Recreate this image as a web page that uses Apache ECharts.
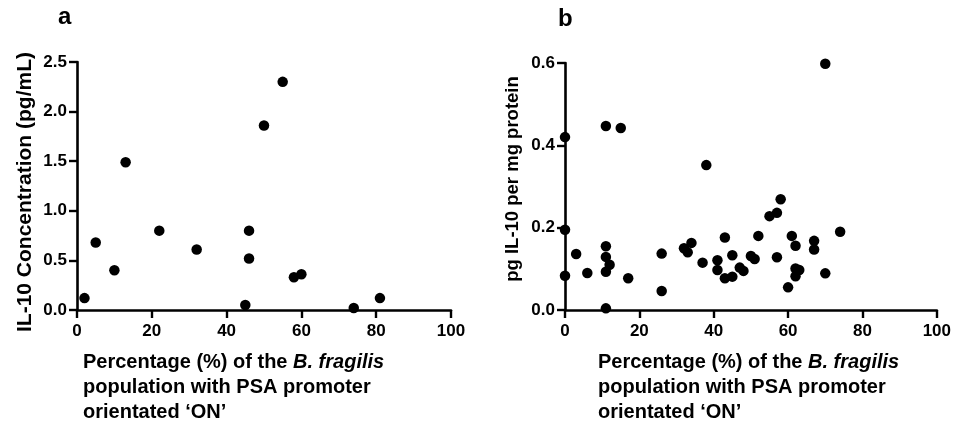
<!DOCTYPE html>
<html><head><meta charset="utf-8">
<script src="https://cdn.jsdelivr.net/npm/echarts@6/dist/echarts.min.js"></script>
<style>html,body{margin:0;padding:0;background:#fff}#c{width:954px;height:422px}</style>
</head><body><div id="c"></div>
<script>
// Panel a: % PSA ON vs IL-10 concentration (pg/mL)
const aX = [2, 5, 10, 13, 22, 32, 45, 46, 46, 50, 55, 58, 60, 74, 81];
const aY = [0.12, 0.68, 0.40, 1.49, 0.80, 0.61, 0.05, 0.80, 0.52, 1.86, 2.30, 0.33, 0.36, 0.02, 0.12];
// Panel b: % PSA ON vs pg IL-10 per mg protein
const bX = [0, 0, 0, 3, 6, 11, 15, 11, 11, 12, 11, 11, 17, 26, 26, 32, 33, 34, 37, 38, 41, 41, 43, 43, 45, 45, 47, 48, 50, 51, 52, 55, 57, 58, 57, 60, 61, 62, 62, 62, 63, 67, 67, 70, 70, 74];
const bY = [0.42, 0.195, 0.083, 0.136, 0.09, 0.447, 0.442, 0.155, 0.129, 0.11, 0.093, 0.004, 0.077, 0.137, 0.046, 0.15, 0.14, 0.163, 0.115, 0.352, 0.121, 0.097, 0.176, 0.077, 0.081, 0.133, 0.103, 0.095, 0.131, 0.124, 0.180, 0.228, 0.236, 0.269, 0.128, 0.055, 0.180, 0.156, 0.101, 0.082, 0.097, 0.168, 0.147, 0.089, 0.598, 0.190];
const xTicks = [0, 20, 40, 60, 80, 100];
const aYTicks = ['0.0', '0.5', '1.0', '1.5', '2.0', '2.5'];
const bYTicks = ['0.0', '0.2', '0.4', '0.6'];

const chart = echarts.init(document.getElementById('c'));
const axLine = {lineStyle: {color: '#000', width: 2.6}};
const axTick = {show: true, length: 8, lineStyle: {color: '#000', width: 2.4}};
const FONT = 'Liberation Sans';
function xAxis(i) {
  return {type: 'value', gridIndex: i, min: 0, max: 100, interval: 20,
    axisLine: {onZero: false, ...axLine}, axisTick: axTick, splitLine: {show: false},
    axisLabel: {color: '#000', fontFamily: FONT, fontWeight: 'bold', fontSize: 17, margin: 13,
      formatter: v => xTicks.includes(v) ? String(v) : ''}};
}
function yAxis(i, max, interval, ticks) {
  return {type: 'value', gridIndex: i, min: 0, max: max, interval: interval,
    axisLine: {onZero: false, ...axLine}, axisTick: axTick, splitLine: {show: false},
    axisLabel: {color: '#000', fontFamily: FONT, fontWeight: 'bold', fontSize: 17, margin: 10,
      formatter: v => ticks[Math.round(v / interval)]}};
}
const titleRich = {
  n: {fontFamily: FONT, fontWeight: 'bold', fontSize: 20, fill: '#000', lineHeight: 25},
  i: {fontFamily: FONT, fontWeight: 'bold', fontStyle: 'italic', fontSize: 20, fill: '#000', lineHeight: 25}
};
const titleText = '{n|Percentage (%) of the }{i|B. fragilis}\n{n|population with PSA promoter}\n{n|orientated ‘ON’}';
chart.setOption({
  animation: false,
  grid: [
    {left: 77, right: 503, top: 62, bottom: 112},
    {left: 565, right: 15, top: 63, bottom: 112}
  ],
  xAxis: [xAxis(0), xAxis(1)],
  yAxis: [yAxis(0, 2.5, 0.5, aYTicks), yAxis(1, 0.6, 0.2, bYTicks)],
  series: [
    {type: 'scatter', xAxisIndex: 0, yAxisIndex: 0, symbolSize: 10.5, itemStyle: {color: '#000', opacity: 1},
      data: aX.map((x, k) => [x, aY[k]])},
    {type: 'scatter', xAxisIndex: 1, yAxisIndex: 1, symbolSize: 10.5, itemStyle: {color: '#000', opacity: 1},
      data: bX.map((x, k) => [x, bY[k]])}
  ],
  graphic: [
    {type: 'text', left: 58, top: 5, style: {text: 'a', font: 'bold 24px "Liberation Sans"', fill: '#000'}},
    {type: 'text', left: 558, top: 7, style: {text: 'b', font: 'bold 24px "Liberation Sans"', fill: '#000'}},
    {type: 'text', x: 25, y: 192, rotation: Math.PI / 2,
      style: {text: 'IL-10 Concentration (pg/mL)', font: 'bold 21px "Liberation Sans"', fill: '#000', align: 'center', verticalAlign: 'middle'}},
    {type: 'text', x: 513, y: 179, rotation: Math.PI / 2,
      style: {text: 'pg IL-10 per mg protein', font: 'bold 18.5px "Liberation Sans"', fill: '#000', align: 'center', verticalAlign: 'middle'}},
    {type: 'text', left: 83, top: 352, style: {text: titleText, rich: titleRich}},
    {type: 'text', left: 598, top: 352, style: {text: titleText, rich: titleRich}}
  ]
});
</script></body></html>
